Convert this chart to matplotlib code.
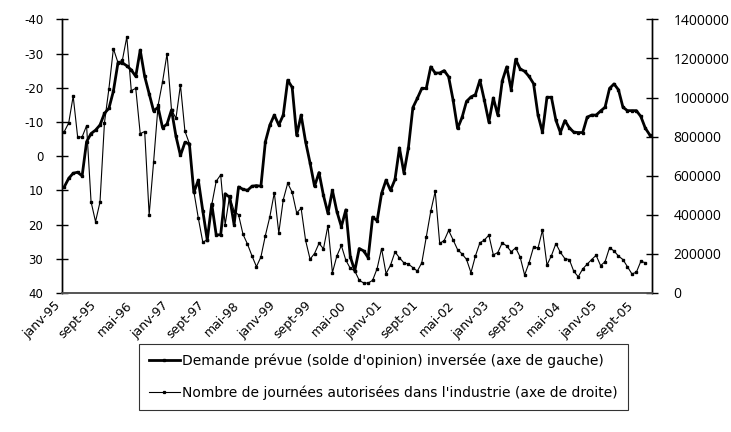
import matplotlib
matplotlib.use("Agg")
import matplotlib.pyplot as plt
import matplotlib.transforms as mtransforms
import numpy as np

tick_labels = ["janv-95", "sept-95", "mai-96", "janv-97", "sept-97", "mai-98",
               "janv-99", "sept-99", "mai-00", "janv-01", "sept-01", "mai-02",
               "janv-03", "sept-03", "mai-04", "janv-05", "sept-05"]

# Demande prévue (solde d'opinion), monthly Jan 1995 - Dec 2005 (left axis, inverted)
demande = [9, 6.5, 5, 4.7, 5.8, -4.2, -6.6, -7.6, -9.1, -12.5,
           -14, -19, -27.1, -27.3, -26.4, -25.2, -23.3, -31, -23.3, -18.2,
           -13.2, -14.3, -8.3, -9.4, -13.5, -5.8, -0.2, -4, -3.6, 10.6,
           7, 16, 24.5, 14, 23, 23, 11, 12, 20, 9,
           9.7, 10, 8.8, 8.6, 8.8, -4.2, -9.1, -12, -9.1, -12,
           -22.2, -20.1, -6.1, -12, -4.2, 2, 8.8, 4.8, 11.5, 16.7,
           10, 16.2, 20.6, 15.7, 29.4, 33.5, 27, 27.7, 29.7, 17.8,
           18.9, 10.9, 7, 10, 6.8, -2.4, 4.9, -2.4, -14.2, -16.9,
           -19.8, -19.8, -26.1, -24.3, -24.3, -25, -23.2, -16.4, -8.1, -11.3,
           -16, -17.3, -18, -22.2, -16.3, -10, -17, -12, -22, -26.1,
           -19.4, -28.3, -25.5, -24.8, -23.3, -21.2, -12, -7, -17.2, -17.2,
           -10.5, -6.9, -10.4, -8.3, -7, -6.9, -6.9, -11.4, -12, -12,
           -13.2, -14.3, -19.8, -21.1, -19.4, -14.3, -13.3, -13.3, -13.3, -11.6,
           -8.2, -6.2]

# Nombre de journées autorisées, monthly Jan 1995 - Nov 2005 (right axis)
journees = [825000, 870000, 1007000, 798000, 798000, 856000, 467000, 365000, 465000, 871000,
            1046000, 1250000, 1180000, 1190000, 1310000, 1035000, 1047000, 815000, 826000, 400000,
            672000, 960000, 1081000, 1224000, 937000, 894000, 1064000, 828000, 764000, 519000,
            383000, 260000, 272000, 451000, 572000, 604000, 349000, 497000, 420000, 400000,
            300000, 250000, 190000, 135000, 184000, 294000, 390000, 513000, 307000, 477000,
            562000, 515000, 410000, 433000, 269000, 173000, 202000, 254000, 226000, 345000,
            104000, 190000, 243000, 168000, 126000, 113000, 65000, 51000, 51000, 65000,
            125000, 227000, 99000, 142000, 210000, 180000, 154000, 148000, 130000, 112000,
            155000, 288000, 418000, 520000, 254000, 268000, 320000, 272000, 222000, 200000,
            172000, 104000, 190000, 257000, 271000, 296000, 195000, 207000, 257000, 240000,
            211000, 231000, 184000, 92000, 155000, 235000, 230000, 322000, 143000, 191000,
            253000, 208000, 176000, 171000, 111000, 83000, 123000, 148000, 171000, 193000,
            140000, 160000, 232000, 215000, 189000, 171000, 135000, 98000, 106000, 162000,
            155000]

label_left = "Demande prévue (solde d'opinion) inversée (axe de gauche)"
label_right = "Nombre de journées autorisées dans l'industrie (axe de droite)"

W, H = 731, 432
fig = plt.figure(figsize=(W / 100, H / 100), dpi=100)
L, R, T, B = 62, 652, 19.3, 293
ax = fig.add_axes([L / W, 1 - B / H, (R - L) / W, (B - T) / H])

x1 = np.arange(len(demande))
x2 = np.arange(len(journees))
l1, = ax.plot(x1, demande, color="black", lw=2.0, marker="s", ms=2.0, label=label_left)
ax.set_ylim(40, -40)
ax.set_xlim(-0.5, len(demande) - 0.5)
ax.set_yticks(range(-40, 41, 10))
ax.set_yticklabels([str(v) for v in range(-40, 41, 10)])

ax2 = ax.twinx()
l2, = ax2.plot(x2, journees, color="black", lw=0.8, marker="s", ms=1.7, label=label_right)
ax2.set_ylim(0, 1400000)
rt = list(range(0, 1400001, 200000))
ax2.set_yticks(rt)
ax2.set_yticklabels([str(v) for v in rt])

for a in (ax, ax2):
    a.spines["top"].set_visible(False)
    a.spines["left"].set_color("black")
    a.spines["right"].set_color("black")
    a.spines["bottom"].set_color("#555555")
    a.spines["left"].set_linewidth(1.0)
    a.spines["right"].set_linewidth(1.0)
    a.spines["bottom"].set_linewidth(1.2)
    a.patch.set_visible(False)

ax.tick_params(axis="y", direction="inout", length=9, width=1.0, labelsize=8.5, pad=9)
ax2.tick_params(axis="y", direction="inout", length=9, width=1.0, labelsize=10, pad=11)
for t in ax2.get_yticklabels():
    t.set_fontfamily("Open Sans")

ax.set_xticks(range(0, 8 * len(tick_labels), 8))
ax.set_xticklabels(tick_labels, rotation=45, ha="right", rotation_mode="anchor", fontsize=9)
ax.tick_params(axis="x", length=0, pad=2)
offset = mtransforms.ScaledTranslation(-10 / 100, -3 / 100, fig.dpi_scale_trans)
for t in ax.get_xticklabels():
    t.set_transform(t.get_transform() + offset)

leg = fig.legend(handles=[l1, l2], loc="upper center",
                 bbox_to_anchor=(383.5 / W, 1 - 344 / H), ncol=1,
                 frameon=True, fancybox=False, edgecolor="black", fontsize=10,
                 handlelength=2.2, handletextpad=0.2, borderpad=0.7, labelspacing=1.25,
                 borderaxespad=0, markerscale=0.8)
leg.get_frame().set_linewidth(0.8)

fig.savefig("out.png", dpi=100)
